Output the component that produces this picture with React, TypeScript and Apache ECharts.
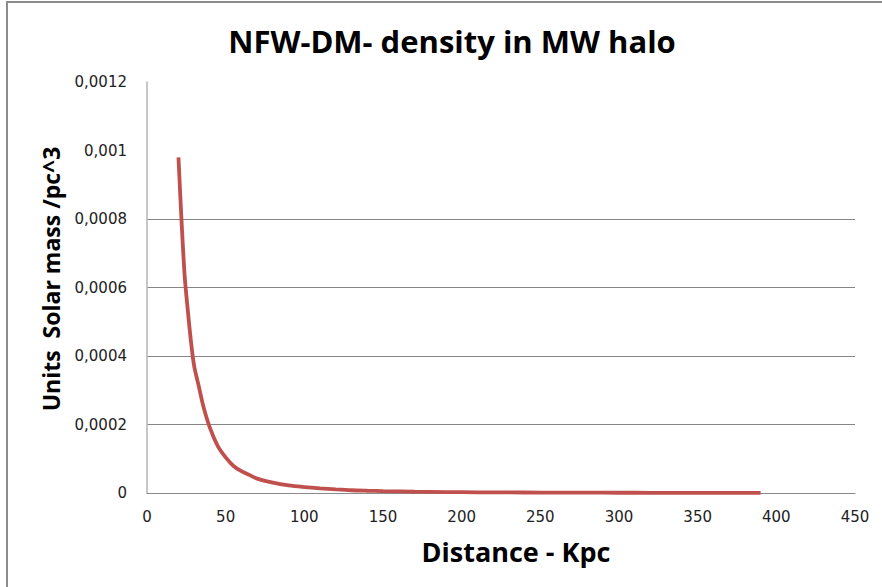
import React, { useEffect, useRef } from "react";
import * as echarts from "echarts";

const distanceKpc = [20, 22, 24, 26, 28, 30, 33, 36, 40, 45, 50, 55, 60, 65, 70, 80, 90, 100, 110, 120, 130, 140, 150, 170, 190, 210, 230, 250, 270, 290, 310, 330, 350, 370, 390];
const density = [0.00098, 0.00079, 0.00063, 0.00053, 0.00044, 0.00037, 0.00031, 0.00025, 0.00019, 0.000137, 0.000104, 0.000079, 0.000064, 0.000053, 0.000042, 0.00003, 0.000022, 0.0000172, 0.0000135, 0.0000105, 0.000008, 0.0000066, 0.0000055, 0.0000038, 0.0000028, 0.0000021, 0.0000016, 0.0000013, 0.000001, 0.0000009, 0.0000007, 0.0000006, 0.0000005, 0.0000004, 0.0000004];

const titleText = "NFW-DM- density in MW halo";
const xName = "Distance - Kpc";
const yName = "Units  Solar mass /pc^3";

export default function App() {
  const ref = useRef<HTMLDivElement>(null);
  useEffect(() => {
    if (!ref.current) return;
    const chart = echarts.init(ref.current, null, { renderer: "svg" });
    const font = "'Open Sans', 'Liberation Sans', sans-serif";
    const tickFont = "'DejaVu Sans', sans-serif";
    chart.setOption({
      animation: false,
      backgroundColor: "#ffffff",
      grid: { left: 147, right: 27, top: 82, bottom: 94 },
      xAxis: {
        type: "value",
        min: 0,
        max: 450,
        interval: 50,
        axisLine: { show: true, lineStyle: { color: "#8a8a8a", width: 1.2 } },
        axisTick: { show: false },
        splitLine: { show: false },
        axisLabel: { color: "#222", fontSize: 15, fontFamily: tickFont, margin: 16 },
      },
      yAxis: {
        type: "value",
        min: 0,
        max: 0.0012,
        interval: 0.0002,
        axisLine: { show: true, lineStyle: { color: "#b4b4b4", width: 1.5 } },
        axisTick: { show: false },
        splitLine: {
          show: true,
          lineStyle: {
            color: ["#868686", "#868686", "#868686", "#868686", "#868686", "rgba(0,0,0,0)", "rgba(0,0,0,0)"],
            width: 1,
          },
        },
        axisLabel: {
          color: "#222",
          fontSize: 15,
          fontFamily: tickFont,
          margin: 20,
          formatter: (v: number) => (v === 0 ? "0" : Number(v.toPrecision(6)).toString().replace(".", ",")),
        },
      },
      graphic: [
        {
          type: "rect",
          shape: { x: 7, y: 2, width: 1000, height: 800 },
          style: { fill: "none", stroke: "#8c8c8c", lineWidth: 2 },
          silent: true,
        },
        {
          type: "text",
          x: 452,
          y: 41,
          style: { text: titleText, fontSize: 31, fontWeight: "bold", fontFamily: font, fill: "#000", align: "center", verticalAlign: "middle" },
        },
        {
          type: "text",
          x: 516,
          y: 551,
          style: { text: xName, fontSize: 27, fontWeight: "bold", fontFamily: font, fill: "#000", align: "center", verticalAlign: "middle" },
        },
        {
          type: "text",
          x: 51,
          y: 279,
          rotation: Math.PI / 2,
          style: { text: yName, fontSize: 23, fontWeight: "bold", fontFamily: font, fill: "#000", align: "center", verticalAlign: "middle" },
        },
      ],
      series: [
        {
          type: "line",
          data: distanceKpc.map((d, i) => [d, density[i]]),
          showSymbol: false,
          smooth: 0.3,
          lineStyle: { color: "#C0504D", width: 3.8 },
          itemStyle: { color: "#C0504D" },
        },
      ],
    });
    return () => chart.dispose();
  }, []);
  return <div ref={ref} style={{ position: "absolute", left: 0, top: 0, width: 882, height: 587 }} />;
}
